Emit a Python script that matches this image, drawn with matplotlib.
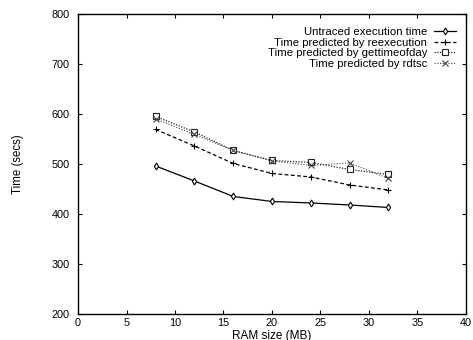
import numpy as np
import matplotlib.pyplot as plt

plt.rcParams['font.family'] = ['Liberation Sans', 'DejaVu Sans']

# RAM size (MB)
ram = [8, 12, 16, 20, 24, 28, 32]

# tempos (segundos)
untraced = [496, 466, 435, 425, 422, 418, 413]
reexec = [569, 536, 501, 481, 474, 458, 448]
gettimeofday = [595, 564, 527, 507, 503, 489, 479]
rdtsc = [590, 559, 527, 506, 497, 502, 471]

labels = ['Untraced execution time', 'Time predicted by reexecution',
          'Time predicted by gettimeofday', 'Time predicted by rdtsc']

fig = plt.figure(figsize=(4.73, 3.40), dpi=100)
ax = fig.add_axes([0.165, 0.0765, 0.82, 0.8825])

ax.plot(ram, untraced, color='black', lw=0.9, ls='-', marker='d', ms=3.5,
        mfc='white', mew=0.8, label=labels[0])
ax.plot(ram, reexec, color='black', lw=0.9, ls=(0, (3, 2)), marker='+', ms=4.5,
        mew=0.8, label=labels[1])
ax.plot(ram, gettimeofday, color='#222222', lw=0.9, ls=(0, (1, 1.2)), marker='s', ms=4,
        mfc='white', mew=0.8, label=labels[2])
ax.plot(ram, rdtsc, color='#444444', lw=0.8, ls=(0, (1, 1.5)), marker='x', ms=4,
        mew=0.8, label=labels[3])

ax.set_xlim(0, 40)
ax.set_ylim(200, 800)
ax.set_xticks(np.arange(0, 41, 5))
ax.set_yticks(np.arange(200, 801, 100))
ax.tick_params(direction='in', top=True, right=True, labelsize=7.8, length=3)
ax.tick_params(axis='y', pad=6)
ax.tick_params(axis='x', pad=3)
for s in ax.spines.values():
    s.set_linewidth(1.0)

ax.set_xlabel('RAM size (MB)', fontsize=8.5, labelpad=1)
ax.set_ylabel('Time (secs)', fontsize=8.3, labelpad=20)

leg = ax.legend(loc='upper right', bbox_to_anchor=(1.0, 0.99), frameon=False,
                markerfirst=False, fontsize=8.2,
                labelspacing=0.05, handlelength=1.9, handletextpad=0.6,
                borderaxespad=0.3, borderpad=0.6)

fig.savefig('out.png', dpi=100)
